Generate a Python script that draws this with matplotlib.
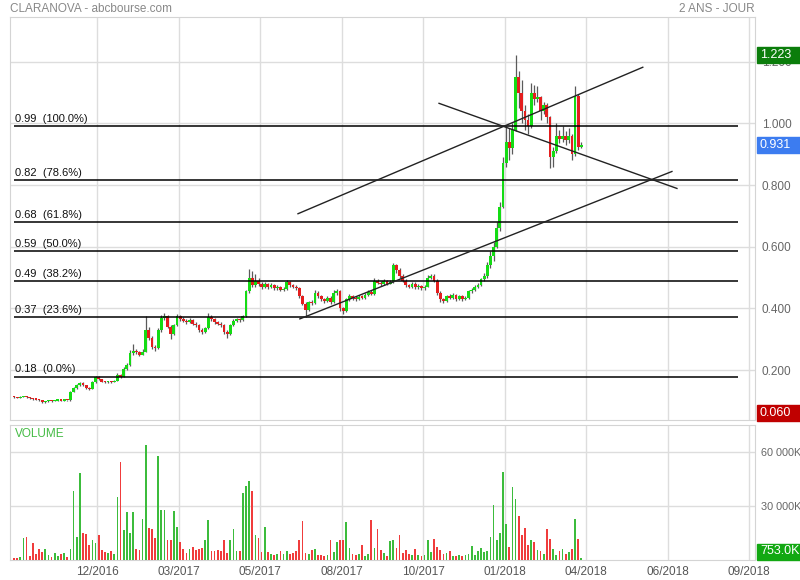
import numpy as np
import matplotlib.pyplot as plt
from matplotlib.patches import Rectangle

plt.rcParams['font.family'] = ['Liberation Sans', 'DejaVu Sans']

#%% data (one candle ~ two sessions)

first_open = 0.115

close = [
    0.112, 0.110, 0.113, 0.115, 0.112, 0.108, 0.106, 0.104, 0.102, 0.095,
    0.098, 0.100, 0.099, 0.101, 0.102, 0.101, 0.103, 0.102, 0.130, 0.142,
    0.150, 0.158, 0.150, 0.143, 0.138, 0.160, 0.178, 0.170, 0.162, 0.160,
    0.163, 0.161, 0.165, 0.185, 0.178, 0.205, 0.215, 0.255, 0.262, 0.258,
    0.250, 0.260, 0.330, 0.305, 0.275, 0.270, 0.330, 0.370, 0.375, 0.340,
    0.318, 0.345, 0.375, 0.365, 0.360, 0.355, 0.362, 0.350, 0.345, 0.330,
    0.322, 0.335, 0.372, 0.365, 0.355, 0.350, 0.345, 0.325, 0.318, 0.345,
    0.360, 0.365, 0.362, 0.375, 0.455, 0.500, 0.475, 0.490, 0.480, 0.470,
    0.478, 0.468, 0.475, 0.465, 0.470, 0.460, 0.462, 0.485, 0.475, 0.470,
    0.465, 0.440, 0.415, 0.395, 0.420, 0.418, 0.450, 0.440, 0.430, 0.425,
    0.435, 0.420, 0.450, 0.455, 0.400, 0.390, 0.430, 0.440, 0.435, 0.430,
    0.438, 0.435, 0.445, 0.452, 0.448, 0.490, 0.482, 0.478, 0.490, 0.480,
    0.485, 0.540, 0.525, 0.505, 0.490, 0.475, 0.470, 0.480, 0.468, 0.472,
    0.465, 0.470, 0.500, 0.505, 0.490, 0.450, 0.430, 0.425, 0.440, 0.435,
    0.445, 0.430, 0.440, 0.430, 0.435, 0.455, 0.460, 0.470, 0.475, 0.495,
    0.505, 0.540, 0.570, 0.600, 0.660, 0.730, 0.870, 0.940, 0.920, 0.980,
    1.150, 1.100, 1.040, 1.010, 0.990, 1.100, 1.080, 1.085, 1.040, 1.060,
    1.020, 0.890, 0.910, 0.960, 0.950, 0.960, 0.945, 0.960, 0.900, 1.090,
    0.925, 0.931]

high = [
    0.116, 0.113, 0.115, 0.117, 0.116, 0.113, 0.109, 0.107, 0.105, 0.103,
    0.100, 0.102, 0.102, 0.103, 0.104, 0.103, 0.105, 0.104, 0.133, 0.146,
    0.155, 0.162, 0.160, 0.152, 0.145, 0.163, 0.182, 0.180, 0.172, 0.165,
    0.166, 0.165, 0.168, 0.190, 0.188, 0.210, 0.222, 0.265, 0.285, 0.268,
    0.262, 0.268, 0.376, 0.338, 0.310, 0.282, 0.335, 0.380, 0.385, 0.378,
    0.345, 0.350, 0.382, 0.380, 0.372, 0.365, 0.368, 0.365, 0.356, 0.350,
    0.335, 0.340, 0.385, 0.378, 0.368, 0.360, 0.355, 0.350, 0.330, 0.350,
    0.365, 0.370, 0.370, 0.380, 0.460, 0.528, 0.520, 0.512, 0.500, 0.485,
    0.485, 0.482, 0.482, 0.478, 0.475, 0.472, 0.468, 0.492, 0.490, 0.480,
    0.475, 0.468, 0.445, 0.420, 0.425, 0.428, 0.458, 0.455, 0.445, 0.435,
    0.440, 0.440, 0.458, 0.462, 0.458, 0.405, 0.435, 0.448, 0.445, 0.440,
    0.442, 0.442, 0.450, 0.458, 0.460, 0.498, 0.495, 0.488, 0.495, 0.492,
    0.492, 0.548, 0.545, 0.530, 0.510, 0.495, 0.480, 0.485, 0.484, 0.478,
    0.476, 0.475, 0.508, 0.512, 0.510, 0.495, 0.455, 0.435, 0.445, 0.446,
    0.450, 0.448, 0.445, 0.444, 0.440, 0.460, 0.466, 0.475, 0.482, 0.500,
    0.515, 0.550, 0.585, 0.615, 0.680, 0.745, 0.890, 0.990, 0.985, 1.000,
    1.223, 1.170, 1.140, 1.060, 1.030, 1.130, 1.125, 1.120, 1.090, 1.070,
    1.065, 1.025, 0.925, 1.000, 0.980, 0.990, 0.975, 0.985, 0.965, 1.120,
    1.095, 0.940]

low = [
    0.110, 0.108, 0.109, 0.112, 0.110, 0.106, 0.104, 0.102, 0.100, 0.093,
    0.094, 0.097, 0.097, 0.098, 0.100, 0.099, 0.100, 0.100, 0.101, 0.128,
    0.140, 0.148, 0.147, 0.140, 0.135, 0.137, 0.158, 0.167, 0.160, 0.158,
    0.158, 0.159, 0.160, 0.163, 0.175, 0.176, 0.200, 0.212, 0.250, 0.252,
    0.245, 0.248, 0.258, 0.298, 0.268, 0.262, 0.268, 0.325, 0.362, 0.335,
    0.300, 0.315, 0.342, 0.358, 0.355, 0.350, 0.352, 0.345, 0.340, 0.325,
    0.318, 0.320, 0.332, 0.360, 0.350, 0.345, 0.340, 0.318, 0.305, 0.315,
    0.342, 0.356, 0.356, 0.360, 0.372, 0.450, 0.470, 0.470, 0.472, 0.462,
    0.465, 0.462, 0.465, 0.458, 0.460, 0.455, 0.455, 0.460, 0.470, 0.465,
    0.460, 0.435, 0.410, 0.372, 0.390, 0.410, 0.415, 0.435, 0.425, 0.418,
    0.420, 0.415, 0.418, 0.445, 0.392, 0.382, 0.388, 0.425, 0.428, 0.425,
    0.426, 0.430, 0.432, 0.440, 0.442, 0.445, 0.478, 0.472, 0.475, 0.475,
    0.478, 0.482, 0.515, 0.498, 0.485, 0.470, 0.465, 0.466, 0.462, 0.464,
    0.460, 0.460, 0.468, 0.495, 0.485, 0.445, 0.422, 0.418, 0.422, 0.430,
    0.432, 0.425, 0.426, 0.425, 0.426, 0.432, 0.450, 0.456, 0.465, 0.472,
    0.490, 0.500, 0.530, 0.555, 0.595, 0.650, 0.725, 0.860, 0.880, 0.900,
    0.975, 1.050, 1.000, 0.980, 0.965, 0.985, 1.060, 1.070, 1.010, 1.030,
    1.000, 0.855, 0.860, 0.905, 0.935, 0.940, 0.930, 0.935, 0.880, 0.895,
    0.915, 0.920]

# volume in K
volume = [
    1000, 1000, 1500, 12000, 12500, 2000, 9000, 3000, 6000, 4000,
    6000, 2500, 1500, 3500, 2000, 3000, 3500, 1500, 6000, 38000,
    12500, 48000, 15000, 14000, 8000, 11000, 9000, 13700, 5500, 4000,
    3500, 5000, 3000, 35000, 54500, 16500, 26500, 14700, 26500, 6000,
    5500, 22700, 64000, 17800, 17000, 12000, 57800, 27800, 27800, 11000,
    11000, 27000, 18000, 10000, 6000, 3500, 6000, 7000, 5500, 6000,
    6500, 11000, 22000, 4500, 5000, 5500, 5000, 10800, 3500, 11000,
    17000, 5000, 4500, 37000, 41000, 43500, 38000, 13700, 12000, 4000,
    18000, 4000, 3000, 2500, 3000, 4500, 3000, 5000, 3000, 3500,
    5000, 10800, 21400, 3500, 3000, 5500, 6000, 2500, 2500, 2000,
    2500, 11000, 4000, 9500, 10700, 10700, 21000, 6500, 3000, 2500,
    3000, 8000, 2000, 3000, 22000, 6500, 17000, 5500, 3500, 2000,
    10500, 11000, 6500, 13700, 3500, 5500, 3000, 2500, 6000, 2500,
    2000, 2500, 11000, 4000, 11500, 7000, 5500, 3000, 3500, 4500,
    2000, 2000, 2500, 2000, 2500, 3000, 7700, 2500, 4500, 6200,
    4000, 4500, 12300, 30500, 10800, 15000, 48900, 20000, 7000, 40500,
    34000, 24400, 13700, 17800, 8000, 11000, 9500, 5500, 4500, 3000,
    17000, 11400, 6000, 2500, 4500, 6000, 3000, 4000, 6000, 22800,
    11200, 753]

date_ticks = [26.5, 52.5, 78.5, 104.5, 130.5, 156.5, 182.5, 208.5, 234.5]
date_labels = ['12/2016', '03/2017', '05/2017', '08/2017', '10/2017',
               '01/2018', '04/2018', '06/2018', '09/2018']
price_ticks = [0.2, 0.4, 0.6, 0.8, 1.0, 1.2]
price_tick_labels = ['0.200', '0.400', '0.600', '0.800', '1.000', '1.200']
vol_ticks = [30000, 60000]
vol_tick_labels = ['30 000K', '60 000K']

fib_levels = [0.991, 0.817, 0.681, 0.585, 0.489, 0.371, 0.179]
fib_labels = ['0.99  (100.0%)', '0.82  (78.6%)', '0.68  (61.8%)',
              '0.59  (50.0%)', '0.49  (38.2%)', '0.37  (23.6%)',
              '0.18  (0.0%)']

trend_x = [[90.6, 200.6], [91.2, 209.9], [135.6, 211.5]]
trend_y = [[0.707, 1.182], [0.366, 0.844], [1.065, 0.789]]

max_price = 1.223
last_price = 0.931
low_mark = 0.060
last_volume = '753.0K'

#%% candles

close = np.array(close)
opens = np.concatenate([[first_open], close[:-1]])
high = np.maximum(np.array(high), np.maximum(opens, close))
low = np.minimum(np.array(low), np.minimum(opens, close))
idx = np.arange(len(close))
up = close >= opens
candle_col = np.where(up, '#14dc14', '#e41e1e')
vol_col = np.where(up, '#3cbc3c', '#f03c3c')

W, H = 800, 580
fig = plt.figure(figsize=(8, 5.8), dpi=100)
ax = fig.add_axes([10 / W, 1 - 420 / H, 745 / W, 403 / H])
axv = fig.add_axes([10 / W, 1 - 559.5 / H, 745 / W, 134.5 / H], sharex=ax)

ax.vlines(idx, low, high, color='#5a5a5a', lw=0.9, zorder=2)
body = np.maximum(np.abs(close - opens), 0.004)
ax.bar(idx, body, bottom=np.minimum(opens, close), width=0.9,
       color=candle_col, zorder=3)

for lev, lab in zip(fib_levels, fib_labels):
    ax.hlines(lev, 0, 231, color='black', lw=1.1, zorder=4)
    ax.text(0.4, lev + 0.007, lab, fontsize=8, va='bottom', ha='left',
            color='#111111', zorder=5)

for tx, ty in zip(trend_x, trend_y):
    ax.plot(tx, ty, color='#222222', lw=1.0, zorder=4)

ax.set_xlim(-1.28, 236.4)
ax.set_ylim(0.038, 1.345)
ax.set_xticks(date_ticks)
ax.set_yticks(price_ticks)
ax.set_yticklabels(price_tick_labels)
ax.yaxis.tick_right()
ax.tick_params(axis='x', length=0, labelbottom=False)
ax.tick_params(axis='y', length=0, pad=5, labelsize=8.5, labelcolor='#666666')
ax.grid(color='#dddddd', lw=1, zorder=0)
ax.set_axisbelow(True)

#%% volume

axv.bar(idx, volume, width=0.55, color=vol_col, zorder=3)
axv.set_ylim(0, 75000)
axv.set_yticks(vol_ticks)
axv.set_yticklabels(vol_tick_labels)
axv.yaxis.tick_right()
axv.set_xticks(date_ticks)
axv.set_xticklabels(date_labels)
axv.tick_params(axis='x', length=0, pad=5, labelsize=8.5, labelcolor='#555555')
axv.tick_params(axis='y', length=0, pad=4, labelsize=7.8, labelcolor='#666666')
axv.grid(color='#dddddd', lw=1, zorder=0)
axv.set_axisbelow(True)
axv.text(0.007, 0.93, 'VOLUME', transform=axv.transAxes, fontsize=8.5,
         color='#44bb44', va='center', ha='left')

for a in (ax, axv):
    for s in a.spines.values():
        s.set_color('#d4d4d4')

fig.text(10 / W, 1 - 9 / H, 'CLARANOVA - abcbourse.com', fontsize=8.5,
         color='#888888', va='center', ha='left')
fig.text(755 / W, 1 - 9 / H, '2 ANS - JOUR', fontsize=8.5,
         color='#888888', va='center', ha='right')

#%% value tags on the right

def tag(ypx, text, color):
    fig.add_artist(Rectangle((757 / W, (ypx - 8) / H), 43 / W, 16 / H,
                             transform=fig.transFigure, color=color,
                             zorder=10))
    fig.text(760 / W, ypx / H, text, fontsize=9, color='white',
             va='center', ha='left', zorder=11)

for val, txt, col in [(max_price, '1.223', '#0b7d0b'),
                      (last_price, '0.931', '#3c7cf0'),
                      (low_mark, '0.060', '#c00000')]:
    tag(ax.transData.transform((0, val))[1], txt, col)
tag(H - 551.5, last_volume, '#12a812')

fig.savefig('out.png', dpi=100)
